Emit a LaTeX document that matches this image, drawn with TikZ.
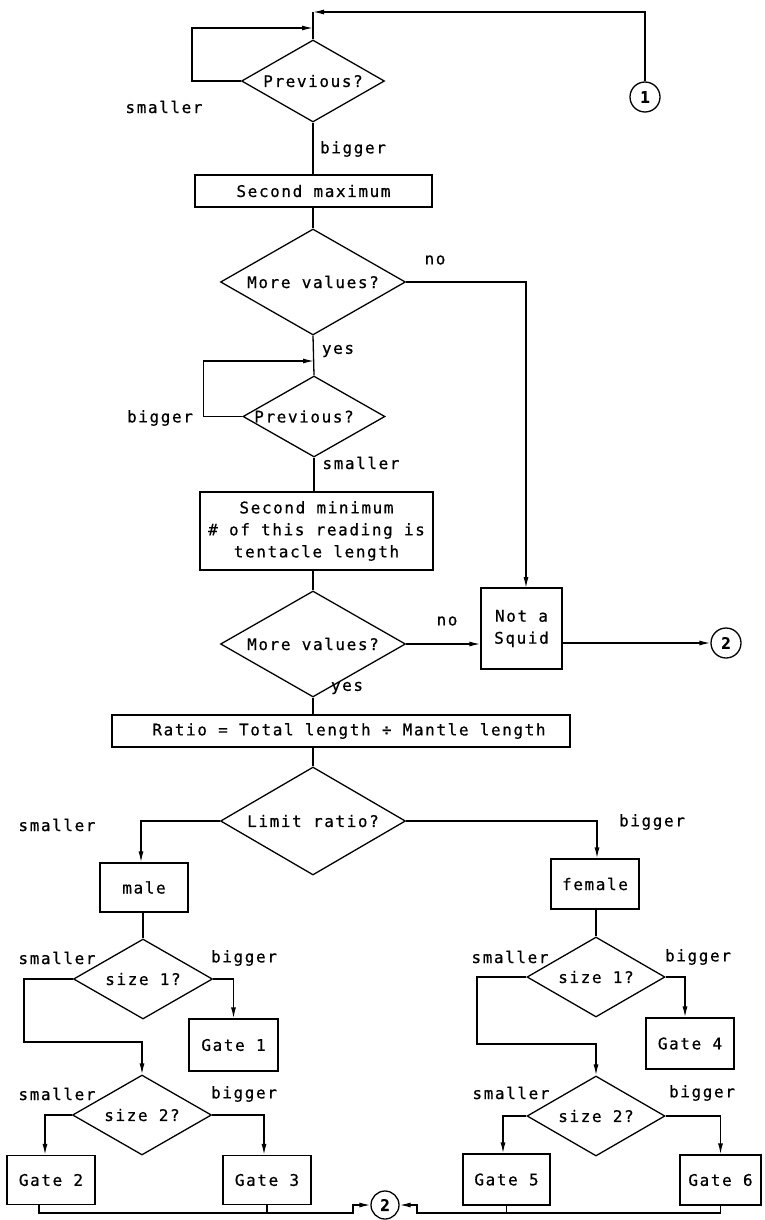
\documentclass[tikz,border=0pt]{standalone}
\usepackage{fontspec}
\newfontfamily\plotfont[LetterSpace=10,FakeBold=0.6]{DejaVu Sans Mono}
\usetikzlibrary{shapes.geometric,arrows.meta,calc}
\begin{document}
\begin{tikzpicture}[x=1pt,y=-1pt,
  every node/.style={font=\plotfont\fontsize{16}{22}\selectfont},
  box/.style={draw,rectangle,inner sep=0pt,line width=1.3pt,align=center},
  dia/.style={draw,diamond,inner sep=0pt,shape aspect=1.75,line width=1.3pt},
  conn/.style={line width=1.3pt},
  arr/.style={conn,-{Latex[length=11pt,width=5pt]}},
  lbl/.style={inner sep=0pt},
  circ/.style={draw,circle,inner sep=0pt,minimum size=30pt,line width=1.3pt,font=\plotfont\bfseries\fontsize{16}{22}\selectfont}]
\useasboundingbox (0,0) rectangle (765,1220);

% nodes
\node[circ] (c1) at (645,97) {1};
\node[dia,minimum width=143pt,minimum height=82pt] (d1) at (313,81) {Previous?};
\node[box,minimum width=237pt,minimum height=32pt] (b1) at (313.5,191) {Second maximum};
\node[dia,minimum width=185pt,minimum height=106pt] (d2) at (313,282) {More values?};
\node[dia,minimum width=142pt,minimum height=81pt] (d3) at (314,416.5) {};
\node[lbl] (d3t) at (304,416.5) {Previous?};
\node[box,minimum width=233pt,minimum height=78pt] (b2) at (316.5,531) {Second minimum\\\# of this reading is\\tentacle length};
\node[dia,minimum width=185pt,minimum height=106pt] (d4) at (313,644) {More values?};
\node[box,minimum width=81pt,minimum height=81pt] (nas) at (521.5,628.5) {Not a\\Squid};
\node[circ] (c2a) at (726,643) {2};
\node[box,minimum width=458pt,minimum height=32pt] (rb) at (341,731) {\hspace*{16pt}Ratio = Total length ÷ Mantle length};
\node[dia,minimum width=185pt,minimum height=108pt] (d5) at (313,821) {Limit ratio?};
\node[box,minimum width=88pt,minimum height=49pt] (male) at (144,887.5) {male};
\node[box,minimum width=88pt,minimum height=50pt] (female) at (595,884) {female};
\node[dia,minimum width=139pt,minimum height=80pt] (d6) at (143,979) {size 1?};
\node[box,minimum width=89pt,minimum height=52pt] (g1) at (233.5,1045) {Gate 1};
\node[dia,minimum width=139pt,minimum height=80pt] (d7) at (142,1115) {size 2?};
\node[box,minimum width=88pt,minimum height=49pt] (g2) at (51,1180) {Gate 2};
\node[box,minimum width=88pt,minimum height=49pt] (g3) at (267,1180) {Gate 3};
\node[dia,minimum width=138pt,minimum height=80pt] (d8) at (596,977) {size 1?};
\node[box,minimum width=88pt,minimum height=51pt] (g4) at (690,1043.5) {Gate 4};
\node[dia,minimum width=138pt,minimum height=80pt] (d9) at (596,1116) {size 2?};
\node[box,minimum width=87pt,minimum height=51pt] (g5) at (506.5,1179.5) {Gate 5};
\node[box,minimum width=81pt,minimum height=50pt] (g6) at (720.5,1180) {Gate 6};
\node[circ,minimum size=28pt] (c2b) at (385,1205) {2};

% labels
\node[lbl] (l1) at (164,107) {smaller};
\node[lbl] (l2) at (353,149) {bigger};
\node[lbl] (l3) at (435,260) {no};
\node[lbl] (l4) at (338,351) {yes};
\node[lbl] (l5) at (160,418) {bigger};
\node[lbl] (l6) at (361,463) {smaller};
\node[lbl] (l7) at (447,621) {no};
\node[lbl] (l8) at (347,688) {yes};
\node[lbl] (l9) at (57,825) {smaller};
\node[lbl] (l10) at (652,822) {bigger};
\node[lbl] (l11) at (57,958) {smaller};
\node[lbl] (l12) at (244,958) {bigger};
\node[lbl] (l13) at (57,1094) {smaller};
\node[lbl] (l14) at (244,1094) {bigger};
\node[lbl] (l15) at (510,957) {smaller};
\node[lbl] (l16) at (698,957) {bigger};
\node[lbl] (l17) at (511,1093) {smaller};
\node[lbl] (l18) at (702,1093) {bigger};

% junction coordinates
\coordinate (jt) at (313,12);
\coordinate (jl) at (313,28);
\coordinate (jy) at (314,361);
\coordinate (nasin) at (526,588);
\coordinate (m1) at (24,1042);
\coordinate (f1) at (477,1044);
\coordinate (bl) at (39,1213);
\coordinate (blj) at (353,1213);
\coordinate (brj) at (417,1213);

% connectors
\draw[arr] (c1.north) |- (jt);
\draw[conn] (d1.north) -- (jt);
\draw[arr] (d1.west) -- ++(-49,0) |- (jl);
\draw[conn] (d1.south) -- (d1.south |- b1.north);
\draw[conn] (b1.south -| d2.north) -- (d2.north);
\draw[arr] (d2.east) -| (nasin);
\draw[conn] (d2.south) -- (d3.north);
\draw[arr] (d3.west) -- ++(-39,0) |- (jy);
\draw[conn] (d3.south) -- (d3.south |- b2.north);
\draw[conn] (b2.south -| d4.north) -- (d4.north);
\draw[arr] (d4.east) -- (d4.east -| nas.west);
\draw[arr] (nas.east |- c2a.west) -- (c2a.west);
\draw[conn] (d4.south) -- (d4.south |- rb.north);
\draw[conn] (rb.south -| d5.north) -- (d5.north);
\draw[arr] (d5.west) -| ([xshift=-3pt]male.north);
\draw[arr] (d5.east) -| ([xshift=2pt]female.north);
\draw[conn] (male.south -| d6.north) -- (d6.north);
\draw[arr] (d6.east) -| (g1.north);
\draw[arr] (d6.west) -| (m1) -| (d7.north);
\draw[arr] (d7.west) -| ([xshift=-6pt]g2.north);
\draw[arr] (d7.east) -| ([xshift=-3pt]g3.north);
\draw[conn] (female.south -| d8.north) -- (d8.north);
\draw[arr] (d8.east) -| ([xshift=-5pt]g4.north);
\draw[arr] (d8.west) -| (f1) -| (d9.north);
\draw[arr] (d9.west) -| ([xshift=-3.5pt]g5.north);
\draw[arr] (d9.east) -| (g6.north);
\draw[arr] (g2.south -| bl) -- (bl) -- (blj) |- (c2b.west);
\draw[conn] (g3.south) -- (g3.south |- bl);
\draw[arr] (g6.south) -- (g6.south |- brj) -- (brj) |- (c2b.east);
\draw[conn] (g5.south) -- (g5.south |- brj);
\end{tikzpicture}
\end{document}
